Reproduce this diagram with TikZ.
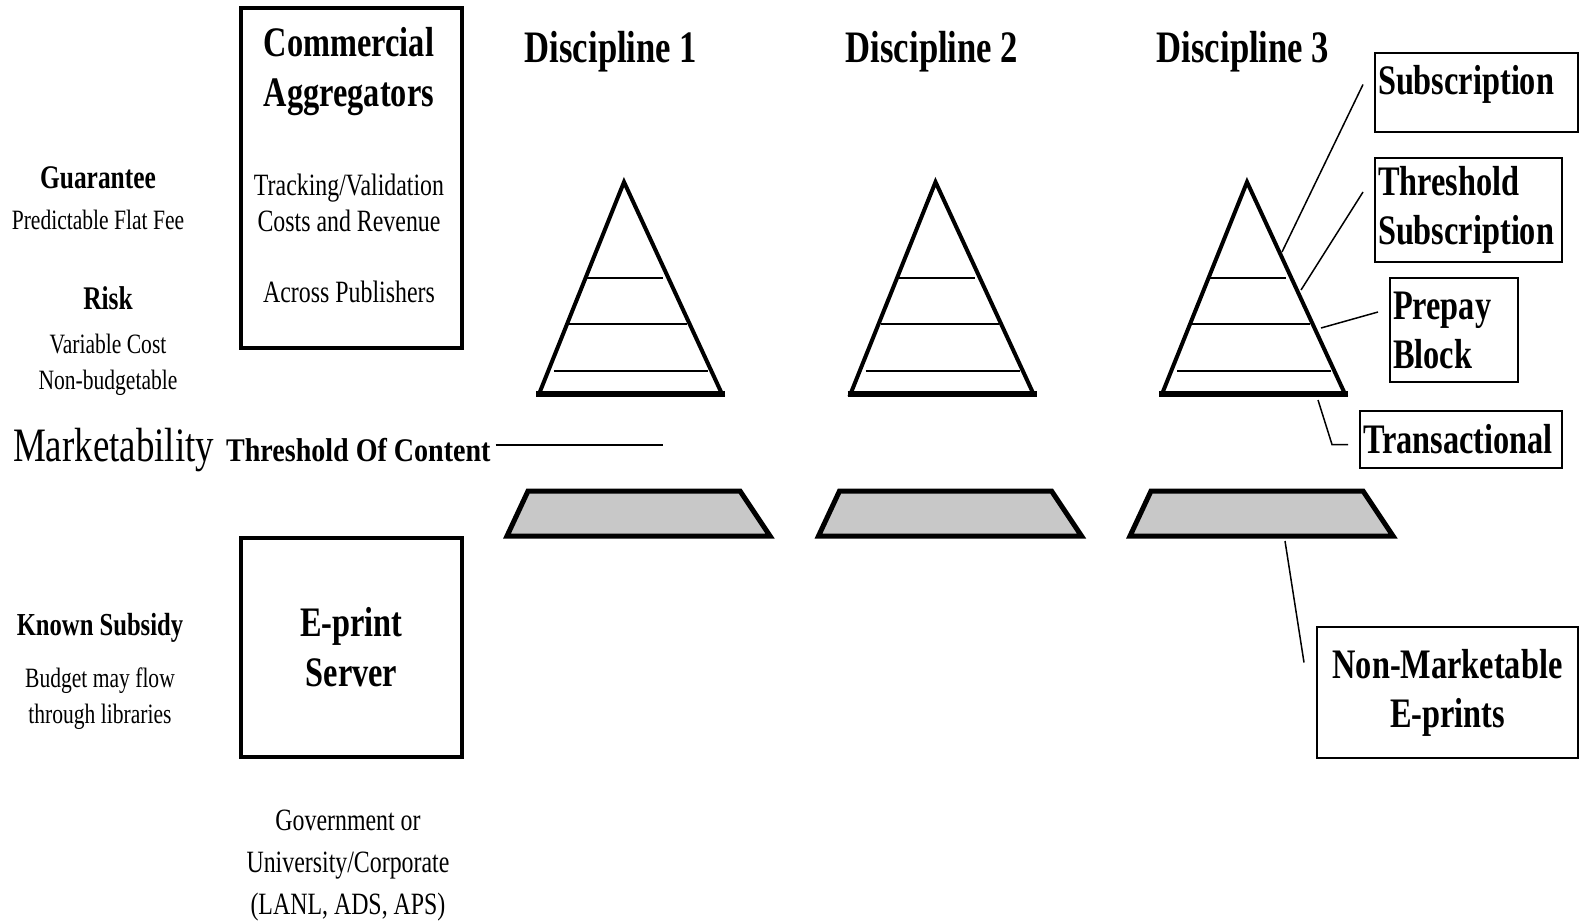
\documentclass[tikz,border=0pt]{standalone}
\usepackage{fontspec}
\newfontfamily\slimserif[FakeStretch=0.77]{Liberation Serif}
\newfontfamily\wideserif[FakeStretch=0.85]{Liberation Serif}
\usetikzlibrary{positioning}
\definecolor{shelfgray}{RGB}{200,200,200}

\begin{document}
\begin{tikzpicture}[
        x=1pt, y=-1pt,
        node distance=2pt]

        \tikzstyle{every node}=[
            inner sep = 0pt,
            outer sep = 0pt
        ]
        \tikzset{head/.style={font=\slimserif\bfseries\fontsize{42}{50}\selectfont, align=center}}
        \tikzset{tag/.style={draw, line width=2pt, inner xsep=3pt, align=left,
            font=\slimserif\bfseries\fontsize{42}{49}\selectfont}}
        \tikzset{bigbox/.style={draw, line width=4pt}}
        \tikzset{disc/.style={anchor=base, font=\slimserif\bfseries\fontsize{45}{50}\selectfont}}
        \tikzset{lead/.style={font=\slimserif\bfseries\fontsize{33}{40}\selectfont}}
        \tikzset{note/.style={font=\slimserif\fontsize{28}{36}\selectfont, align=center}}
        \tikzset{body/.style={font=\slimserif\fontsize{31}{36}\selectfont, align=center}}
        \tikzset{leader/.style={line width=1.5pt}}
        \tikzset{pyr/.style={line width=4pt, line join=miter}}
        \tikzset{tier/.style={line width=2.5pt}}
        \tikzset{shelf/.style={line width=5pt, fill=shelfgray, line join=miter}}

        \useasboundingbox (0,0) rectangle (1579,921);

        % left column
        \node[lead] (guar) at (98,178) {Guarantee};
        \node[note, below=21pt of guar] (flat) {Predictable Flat Fee};
        \node[lead] (risk) at (108,298) {Risk};
        \node[note, below=24pt of risk] (var) {Variable Cost\\Non-budgetable};
        \node[lead, font=\slimserif\bfseries\fontsize{32}{40}\selectfont] (known) at (100,628) {Known Subsidy};
        \node[note, below=25pt of known] (budget) {Budget may flow\\through libraries};

        % aggregators and e-print server
        \node[bigbox, minimum width=221pt, minimum height=340pt] (agg) at (351.5,178) {};
        \node[head] (aggname) at (349,72) {Commercial\\Aggregators};
        \node[body] (track) at (349,203) {Tracking/Validation\\Costs and Revenue};
        \node[body] (across) at (349,292) {Across Publishers};
        \node[bigbox, head, minimum width=221pt, minimum height=219pt] (eprint) at (351.5,647.5) {E-print\\Server};
        \node[body, font=\slimserif\fontsize{31}{42}\selectfont] (gov) at (348,866) {Government or\\University/Corporate\\(LANL, ADS, APS)};

        % threshold
        \node[anchor=base west, font=\slimserif\fontsize{48}{50}\selectfont] (mkt) at (13,461) {Marketability};
        \node[anchor=base west, font=\wideserif\bfseries\fontsize{33}{40}\selectfont] (thrc) at ([xshift=12pt]mkt.base east) {Threshold Of Content};
        \coordinate (mktend) at (663,445);
        \draw[line width=2pt] ([xshift=5pt]thrc.east |- mktend) -- (mktend);

        % disciplines
        \node[disc] (d1) at (611,62) {Discipline 1};
        \node[disc] (d2) at (932,62) {Discipline 2};
        \node[disc] (d3) at (1243,62) {Discipline 3};

        \foreach \a in {624,935.5,1247} {
            \draw[pyr] (\a,182) -- (\a-85,394) -- (\a+98,394) -- cycle;
            \draw[line width=6pt] (\a-88,394) -- (\a+101,394);
            \draw[tier] (\a-37,278) -- (\a+39,278);
            \draw[tier] (\a-55,324) -- (\a+63,324);
            \draw[tier] (\a-70,371) -- (\a+84,371);
            \draw[shelf] (\a-96,491) -- (\a+116,491) -- (\a+146,536) -- (\a-117,536) -- cycle;
        }

        % payment models
        \node[tag, text width=197pt, minimum height=79pt, text depth=26pt] (sub) at (1476.5,92.5) {Subscription};
        \node[tag, text width=181pt, minimum height=104pt] (thr) at (1468.5,210) {Threshold\\Subscription};
        \node[tag, text width=122pt, minimum height=104pt] (pre) at (1454,330) {Prepay\\Block};
        \node[tag, text width=196pt, minimum height=57pt] (tra) at (1461,439.5) {Transactional};
        \node[tag, align=center, text width=255pt, minimum height=131pt] (nonm) at (1447.5,692.5) {Non-Marketable\\E-prints};

        \coordinate (subpt) at (1282,252);
        \coordinate (thrpt) at (1301,290);
        \coordinate (prept) at (1321,328);
        \coordinate (trapt) at (1318,400);
        \coordinate (nonpt) at (1285,541);

        \draw[leader] (sub.west) ++(-12,-8) -- (subpt);
        \draw[leader] (thr.west) ++(-12,-18) -- (thrpt);
        \draw[leader] (pre.west) ++(-12,-18) -- (prept);
        \draw[leader] (tra.west) ++(-12,5) -- ++(-16,0) -- (trapt);
        \draw[leader] (nonm.west) ++(-13,-30) -- (nonpt);
    \end{tikzpicture}
\end{document}
